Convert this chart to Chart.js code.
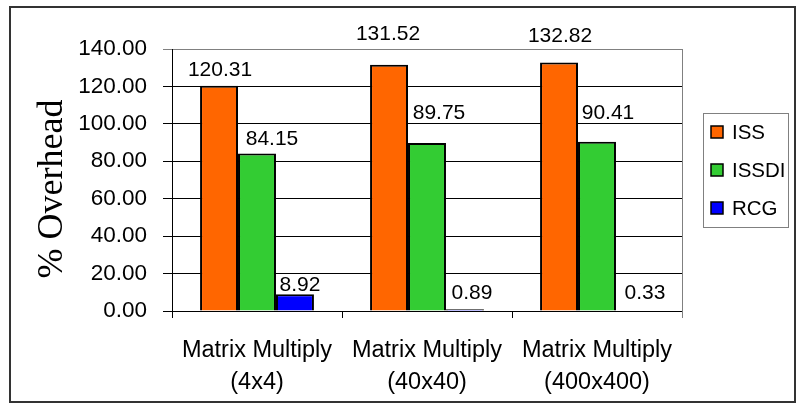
<!DOCTYPE html>
<html>
<head>
<meta charset="utf-8">
<script src="https://cdn.jsdelivr.net/npm/chart.js@4/dist/chart.umd.min.js"></script>
<style>
  html, body { margin: 0; padding: 0; background: #ffffff; }
  #wrap { width: 798px; height: 404px; }
</style>
</head>
<body>
<div id="wrap"><canvas id="c" width="798" height="404"></canvas></div>
<script>
// Benchmarks and measured overhead per technique
const categories = [
  ['Matrix Multiply', '(4x4)'],
  ['Matrix Multiply', '(40x40)'],
  ['Matrix Multiply', '(400x400)']
];
const seriesNames = ['ISS', 'ISSDI', 'RCG'];
const issValues = [120.31, 131.52, 132.82];
const issdiValues = [84.15, 89.75, 90.41];
const rcgValues = [8.92, 0.89, 0.33];
const yTicks = [0, 20, 40, 60, 80, 100, 120, 140];
const yTitle = '% Overhead';

const seriesColors = ['#FF6600', '#33CC33', '#0000FF'];

// Per-label nudges (px) so value labels sit where they read clearly
const labelShiftX = [[1, -1, 1], [15, 12, 11], [5, 7, 10]];
const labelLift = [[16, 31, 26], [14, 30, 29], [9, 16, 17]];

const SANS = '"Liberation Sans", Arial, sans-serif';
const SERIF = '"Liberation Serif", "Times New Roman", serif';

const framePlugin = {
  id: 'frame',
  afterDraw(chart) {
    const ctx = chart.ctx;
    const a = chart.chartArea;
    ctx.save();
    // right edge of plot area
    ctx.strokeStyle = '#808080';
    ctx.lineWidth = 1;
    ctx.beginPath();
    ctx.moveTo(Math.round(a.right) + 0.5, a.top);
    ctx.lineTo(Math.round(a.right) + 0.5, a.bottom + 7);
    ctx.stroke();

    // outer border
    ctx.strokeStyle = '#333333';
    ctx.lineWidth = 2;
    ctx.strokeRect(10, 7, 785, 395);

    // rotated axis title
    ctx.fillStyle = '#000000';
    ctx.font = '36px ' + SERIF;
    ctx.textAlign = 'center';
    ctx.textBaseline = 'middle';
    ctx.translate(53, 189);
    ctx.rotate(-Math.PI / 2);
    ctx.fillText(yTitle, 0, 0);
    ctx.restore();

    // legend
    ctx.save();
    ctx.strokeStyle = '#808080';
    ctx.lineWidth = 1;
    ctx.strokeRect(703.5, 113.5, 85, 114);
    const rows = [132, 170, 208];
    chart.data.datasets.forEach((ds, i) => {
      const cy = rows[i];
      ctx.fillStyle = ds.backgroundColor;
      ctx.fillRect(711, cy - 6, 12, 12);
      ctx.strokeStyle = '#000000';
      ctx.lineWidth = 1.5;
      ctx.strokeRect(711, cy - 6, 12, 12);
      ctx.fillStyle = '#000000';
      ctx.font = '20.5px ' + SANS;
      ctx.textAlign = 'left';
      ctx.textBaseline = 'middle';
      ctx.fillText(ds.label, 732, cy + 1);
    });
    ctx.restore();
  },
  afterDatasetsDraw(chart) {
    const ctx = chart.ctx;
    ctx.save();
    ctx.fillStyle = '#000000';
    ctx.font = '21px ' + SANS;
    ctx.textAlign = 'center';
    ctx.textBaseline = 'middle';
    chart.data.datasets.forEach((ds, i) => {
      const meta = chart.getDatasetMeta(i);
      meta.data.forEach((bar, j) => {
        const txt = ds.data[j].toFixed(2);
        ctx.fillText(txt, bar.x + labelShiftX[i][j], bar.y - labelLift[i][j]);
      });
    });
    ctx.restore();
  }
};

new Chart(document.getElementById('c'), {
  type: 'bar',
  data: {
    labels: categories,
    datasets: [issValues, issdiValues, rcgValues].map((vals, i) => ({
      label: seriesNames[i],
      data: vals,
      backgroundColor: seriesColors[i],
      borderColor: '#000000',
      borderWidth: 2,
      borderSkipped: 'bottom',
      categoryPercentage: 0.67,
      barPercentage: 1.0
    }))
  },
  options: {
    responsive: false,
    animation: false,
    devicePixelRatio: 1,
    layout: { padding: { top: 49, right: 116, bottom: 0, left: 0 } },
    plugins: {
      legend: { display: false },
      tooltip: { enabled: false },
      title: { display: false }
    },
    scales: {
      x: {
        grid: {
          offset: true,
          drawOnChartArea: false,
          drawTicks: true,
          tickLength: 7,
          color: '#000000'
        },
        border: { color: '#000000', width: 1 },
        ticks: {
          color: '#000000',
          font: { family: SANS, size: 23.5, lineHeight: 1.38 },
          padding: 16,
          maxRotation: 0,
          autoSkip: false
        },
        afterFit(scale) { scale.height = 93; }
      },
      y: {
        min: 0,
        max: 140,
        afterBuildTicks(scale) {
          scale.ticks = yTicks.map(v => ({ value: v }));
        },
        grid: {
          drawTicks: true,
          tickLength: 9,
          color: ctx => (ctx.tick && ctx.tick.value === 140) ? '#808080' : '#000000',
          lineWidth: 1
        },
        border: { color: '#000000', width: 1 },
        ticks: {
          color: '#000000',
          font: { family: SANS, size: 22.5 },
          padding: 16,
          callback: v => Number(v).toFixed(2)
        },
        afterFit(scale) { scale.width = 172; }
      }
    }
  },
  plugins: [framePlugin]
});
</script>
</body>
</html>
